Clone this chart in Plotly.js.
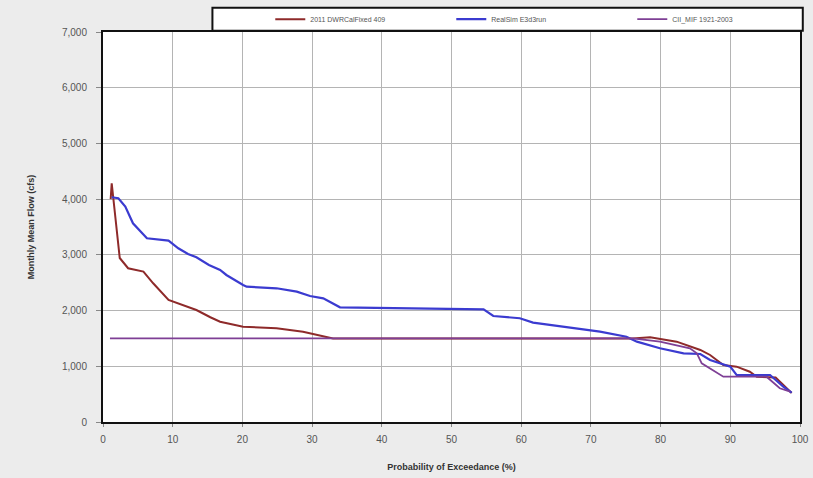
<!DOCTYPE html>
<html><head><meta charset="utf-8">
<script src="https://cdn.plot.ly/plotly-3.0.1.min.js"></script>
<style>html,body{margin:0;padding:0;background:#ececec;}#chart{width:813px;height:478px;}</style>
</head><body><div id="chart"></div>
<script>
const seriesNames = ["2011 DWRCalFixed 409", "RealSim E3d3run", "CII_MIF 1921-2003"];
const redX = [1.1, 1.25, 2.4, 3.6, 5.8, 7.2, 9.4, 11.3, 13.4, 15.4, 16.8, 20.1, 24.9, 28.7, 31.6, 33, 76, 78.5, 82.3, 85.7, 87.1, 89, 90.9, 92.8, 93.8, 96.5, 98.8];
const redY = [4000, 4285, 2944, 2760, 2700, 2490, 2190, 2100, 2010, 1880, 1800, 1711, 1682, 1621, 1544, 1500, 1500, 1520, 1442, 1293, 1203, 1023, 993, 903, 813, 800, 520];
const blueX = [1.25, 2.2, 3.2, 4.3, 6.3, 8.2, 9.4, 10.8, 12.2, 13.4, 15.2, 16.8, 17.7, 20.1, 20.6, 24.9, 27.8, 29.7, 31.6, 34, 44, 54.6, 56, 59.8, 61.7, 66.5, 71.3, 75.1, 76.6, 79.9, 83.3, 85.7, 87.1, 90, 90.9, 95.7, 97.6, 98.8];
const blueY = [4034, 4016, 3865, 3567, 3298, 3267, 3255, 3118, 3016, 2956, 2819, 2729, 2639, 2460, 2429, 2400, 2339, 2262, 2220, 2059, 2041, 2023, 1903, 1862, 1783, 1700, 1621, 1531, 1442, 1323, 1233, 1221, 1113, 993, 844, 844, 634, 526];
const purpleX = [1, 76, 79.9, 84.2, 85.2, 85.9, 89, 95.2, 97.1, 98.6];
const purpleY = [1500, 1500, 1442, 1323, 1233, 1054, 813, 813, 605, 544];
const xTicks = [0,10,20,30,40,50,60,70,80,90,100];
const yTicks = [0,1000,2000,3000,4000,5000,6000,7000];

const font = "Liberation Sans, Arial, sans-serif";
const traces = [
  {x: redX, y: redY, name: seriesNames[0], mode: "lines", line: {color: "#8e2a2a", width: 2}},
  {x: blueX, y: blueY, name: seriesNames[1], mode: "lines", line: {color: "#3b3bd0", width: 2.2}},
  {x: purpleX, y: purpleY, name: seriesNames[2], mode: "lines", line: {color: "#7e3f95", width: 1.8}}
];
const layout = {
  width: 813, height: 478,
  paper_bgcolor: "#ececec", plot_bgcolor: "#ffffff",
  margin: {l: 103, r: 13, t: 32, b: 56, autoexpand: false},
  font: {family: font, color: "#333"},
  showlegend: true,
  legend: {orientation: "h", x: 0.24, xanchor: "left", y: 1.033, yanchor: "middle",
           bgcolor: "rgba(0,0,0,0)", borderwidth: 0, font: {size: 7, color: "#555"},
           entrywidth: 136, itemwidth: 30, tracegroupgap: 0},
  shapes: [{type: "rect", xref: "paper", yref: "paper", x0: 0.157, x1: 1.004, y0: 1.003, y1: 1.062,
            fillcolor: "#ffffff", line: {color: "#111", width: 2}, layer: "below"}],
  xaxis: {range: [0, 100], tickvals: xTicks, showgrid: true, gridcolor: "#b4b4b4", gridwidth: 1,
          zeroline: false, showline: true, linecolor: "#111", linewidth: 2, mirror: true,
          ticks: "outside", ticklen: 3, tickcolor: "#888", ticklabelstandoff: 4, tickfont: {size: 10, color: "#555"},
          title: {text: "<b>Probability of Exceedance (%)</b>", font: {size: 9, color: "#333"}, standoff: 20}},
  yaxis: {range: [0, 7000], tickvals: yTicks, tickformat: ",d", showgrid: true, gridcolor: "#b4b4b4", gridwidth: 1,
          zeroline: false, showline: true, linecolor: "#111", linewidth: 2, mirror: true,
          ticks: "outside", ticklen: 5, tickcolor: "#888", ticklabelstandoff: 7, tickfont: {size: 10, color: "#555"},
          title: {text: "<b>Monthly Mean Flow (cfs)</b>", font: {size: 9, color: "#333"}, standoff: 26}}
};
Plotly.newPlot("chart", traces, layout, {displayModeBar: false, staticPlot: true});
</script></body></html>
